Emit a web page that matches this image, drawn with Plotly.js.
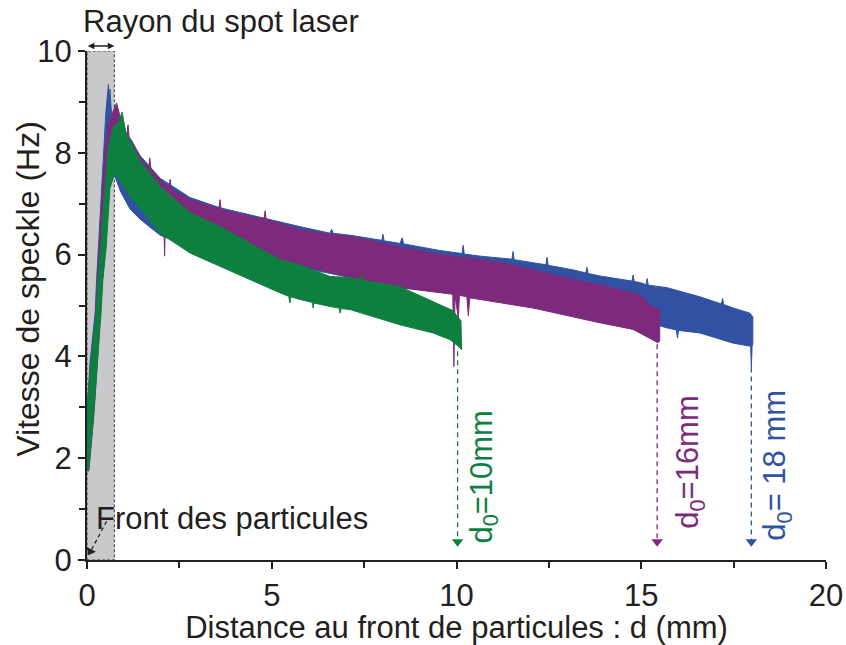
<!DOCTYPE html>
<html>
<head>
<meta charset="utf-8">
<script src="https://cdn.plot.ly/plotly-3.0.1.min.js"></script>
<style>html,body{margin:0;padding:0;background:#fff;}#chart{width:846px;height:645px;}</style>
</head>
<body>
<div id="chart"></div>
<script>
// ---- Data (upper / lower envelopes of each noisy band, with visible spikes) ----
const blueTopX = [0.01,0.0,0.08,0.22,0.26,0.31,0.35,0.40,0.46,0.51,0.56,0.58,0.60,0.62,0.66,0.70,0.85,1.0,1.2,1.43,1.98,2.79,3.6,4.41,5.22,5.76,6.58,6.62,6.66,7.12,7.98,8.01,8.04,8.47,8.53,8.57,9.55,10.15,10.18,10.21,10.64,11.37,11.5,11.53,11.56,12.07,12.42,12.45,12.48,13.15,13.5,13.53,13.56,13.88,14.75,14.78,14.81,14.97,15.13,15.16,15.19,15.7,16.59,17.17,17.2,17.23,17.49,17.94,18.02];
const blueTopY = [1.8,2.9,3.87,4.85,5.51,6.16,6.82,7.47,8.13,8.78,9.2,9.34,9.0,9.25,8.8,8.6,8.55,8.45,8.25,7.95,7.5,7.12,6.92,6.78,6.65,6.55,6.42,6.5,6.42,6.38,6.28,6.4,6.27,6.22,6.33,6.21,6.08,6.02,6.18,6.01,5.97,5.93,5.91,6.06,5.9,5.84,5.8,5.95,5.79,5.7,5.64,5.75,5.63,5.58,5.48,5.6,5.47,5.45,5.41,5.53,5.4,5.35,5.17,5.03,5.14,5.02,4.95,4.85,4.78];
const blueBotX = [0.04,0.17,0.26,0.35,0.40,0.49,0.53,0.58,0.70,0.9,1.16,1.43,1.98,2.79,3.6,4.41,5.76,7.12,8.47,10.28,12.07,13.88,14.78,15.7,15.95,15.98,16.01,16.59,17.49,17.96,17.98,18.0,18.02];
const blueBotY = [1.8,2.88,3.87,4.85,5.51,6.16,6.82,7.47,7.65,7.25,6.9,6.7,6.38,6.15,6.0,5.9,5.75,5.55,5.4,5.3,5.15,4.92,4.75,4.56,4.52,4.36,4.51,4.46,4.26,4.2,3.78,4.2,4.25];

const purpleTopX = [0.01,0.0,0.1,0.24,0.28,0.33,0.37,0.43,0.5,0.6,0.7,0.8,0.9,1.0,1.08,1.11,1.14,1.43,1.67,1.7,1.73,1.98,2.22,2.25,2.28,2.79,3.57,3.6,3.63,4.41,4.79,4.82,4.85,5.22,5.76,6.58,7.12,8.47,9.55,10.28,11.37,12.07,13.15,13.88,14.97,15.24,15.5];
const purpleTopY = [1.75,2.9,3.87,4.85,5.51,6.16,6.82,7.47,8.13,8.6,8.8,8.98,8.7,8.5,8.35,8.55,8.3,7.92,7.7,7.9,7.68,7.47,7.3,7.48,7.28,7.08,6.9,7.08,6.88,6.75,6.7,6.86,6.69,6.62,6.49,6.4,6.36,6.15,6.0,5.94,5.82,5.7,5.51,5.41,5.21,5.0,4.92];
const purpleBotX = [0.05,0.19,0.28,0.37,0.42,0.51,0.55,0.62,0.8,1.0,1.43,1.98,2.08,2.1,2.12,2.79,3.6,4.41,5.76,7.12,8.47,9.9,9.93,9.96,10.05,10.08,10.28,10.32,10.36,12.07,13.88,14.78,15.45,15.5];
const purpleBotY = [1.75,2.88,3.87,4.85,5.51,6.16,6.82,7.6,7.7,7.5,7.1,6.7,6.65,5.97,6.63,6.4,6.2,6.05,5.8,5.55,5.35,5.22,3.8,5.2,4.75,5.2,5.17,4.8,5.15,4.95,4.66,4.53,4.27,4.3];

const greenTopX = [0.02,0.0,0.1,0.25,0.3,0.36,0.42,0.5,0.58,0.7,0.85,0.95,1.05,1.43,1.98,2.79,3.6,4.41,5.22,5.76,6.58,7.12,7.41,7.44,7.47,8.47,9.37,9.9,10.12];
const greenTopY = [1.75,2.9,3.87,4.85,5.51,6.16,6.82,7.47,8.13,8.5,8.6,8.8,8.4,7.85,7.34,6.82,6.55,6.23,5.9,5.8,5.57,5.55,5.5,5.62,5.49,5.37,5.08,4.9,4.7];
const greenBotX = [0.05,0.18,0.28,0.38,0.43,0.52,0.57,0.62,0.75,0.9,1.2,1.61,1.98,2.79,3.6,4.41,5.22,5.46,5.49,5.52,5.76,6.1,6.12,6.14,6.58,6.82,6.85,6.88,7.12,8.47,9.37,9.82,10.05,10.14];
const greenBotY = [1.8,2.88,3.87,4.85,5.51,6.16,6.82,7.3,7.6,7.45,7.12,6.75,6.42,6.03,5.77,5.51,5.25,5.18,5.05,5.17,5.12,5.06,4.95,5.05,4.98,4.95,4.85,4.94,4.92,4.62,4.46,4.33,4.2,4.13];

const seriesNames = ["d0 = 18 mm", "d0 = 16 mm", "d0 = 10 mm"];
const seriesColors = ["#3152a3", "#7d2a7c", "#0d7f3f"];
const endDistances = [17.98, 15.43, 10.03];   // where each d0 run ends (mm)
const endStartY = [3.78, 4.24, 4.1];
const labelTexts = ["d<sub>0</sub>= 18 mm", "d<sub>0</sub>=16mm", "d<sub>0</sub>=10mm"];

const xTicks = [0, 5, 10, 15, 20];
const yTicks = [0, 2, 4, 6, 8, 10];
const spotRadius = 0.74;

const FONT = "Liberation Sans, Arial, Helvetica, sans-serif";
const TXT = "#231f20";

function band(tx, ty, bx, by) {
  return {
    x: tx.concat(bx.slice().reverse()).concat([tx[0]]),
    y: ty.concat(by.slice().reverse()).concat([ty[0]])
  };
}
const bands = [
  band(blueTopX, blueTopY, blueBotX, blueBotY),
  band(purpleTopX, purpleTopY, purpleBotX, purpleBotY),
  band(greenTopX, greenTopY, greenBotX, greenBotY)
];

const traces = bands.map((b, i) => ({
  type: "scatter", mode: "lines", x: b.x, y: b.y,
  fill: "toself", fillcolor: seriesColors[i],
  line: {color: seriesColors[i], width: 1},
  name: seriesNames[i], hoverinfo: "skip", showlegend: false
}));

// dashed arrows marking the end of each run
for (let i = 0; i < 3; i++) {
  traces.push({type: "scatter", mode: "lines", x: [endDistances[i], endDistances[i]], y: [endStartY[i], 0.4],
    line: {color: seriesColors[i], width: 1.3, dash: "5px,4px"}, hoverinfo: "skip", showlegend: false});
  traces.push({type: "scatter", mode: "markers", x: [endDistances[i]], y: [0.36],
    marker: {symbol: "triangle-down", size: 10, color: seriesColors[i], line: {width: 0}},
    hoverinfo: "skip", showlegend: false, cliponaxis: false});
}
// particle front dashed arrow
traces.push({type: "scatter", mode: "lines", x: [0.53, 0.12], y: [0.76, 0.2],
  line: {color: TXT, width: 1.2, dash: "4px,3px"}, hoverinfo: "skip", showlegend: false});
traces.push({type: "scatter", mode: "markers", x: [0.09], y: [0.17],
  marker: {symbol: "triangle-down", size: 9, angle: 28, color: TXT, line: {width: 0}},
  hoverinfo: "skip", showlegend: false, cliponaxis: false});

const shapes = [
  {type: "rect", xref: "x", yref: "y", x0: 0, x1: spotRadius, y0: 0, y1: 10,
   fillcolor: "#c8c9cb", line: {color: "#3a3a3a", width: 1, dash: "3px,2px"}, layer: "below"}
];
const annotations = [
  {x: 3.63, y: 1.057, xref: "x", yref: "paper", text: "Rayon du spot laser", showarrow: false,
   font: {family: FONT, size: 31, color: TXT}, xanchor: "center", yanchor: "middle"},
  {x: 3.92, y: 0.81, xref: "x", yref: "y", text: "Front des particules", showarrow: false,
   font: {family: FONT, size: 31, color: TXT}, xanchor: "center", yanchor: "middle"},
  // spot radius double-headed arrow above the grey band
  {x: spotRadius, y: 1.0098, xref: "x", yref: "paper", ax: -28, ay: 0, axref: "pixel", ayref: "pixel",
   showarrow: true, arrowhead: 2, startarrowhead: 2, arrowside: "end+start", arrowsize: 1, startarrowsize: 1,
   arrowwidth: 1.3, arrowcolor: TXT, text: "", standoff: 0, startstandoff: 0},
  {x: -0.0798, y: 0.533, xref: "paper", yref: "paper", text: "Vitesse de speckle (Hz)", showarrow: false,
   textangle: -90, font: {family: FONT, size: 32, color: TXT}, xanchor: "center", yanchor: "middle"}
];
const labelX = [18.67, 16.32, 10.72];
const labelY = [1.87, 1.93, 1.64];
for (let i = 0; i < 3; i++) {
  annotations.push({x: labelX[i], y: labelY[i], xref: "x", yref: "y", text: labelTexts[i],
    showarrow: false, textangle: -90, font: {family: FONT, size: 31, color: seriesColors[i]},
    xanchor: "center", yanchor: "middle"});
}

const layout = {
  width: 846, height: 645,
  margin: {l: 87, r: 20, t: 51, b: 85, pad: 0},
  paper_bgcolor: "#ffffff", plot_bgcolor: "#ffffff",
  showlegend: false,
  font: {family: FONT, size: 31, color: TXT},
  xaxis: {
    range: [0, 20], tickvals: xTicks, ticktext: xTicks.map(String),
    showgrid: false, zeroline: false, showline: true, linecolor: TXT, linewidth: 2,
    ticks: "outside", ticklen: 7, tickwidth: 2, tickcolor: TXT,
    minor: {dtick: 2.5, ticks: "outside", ticklen: 6, tickwidth: 2, tickcolor: TXT, showgrid: false},
    tickfont: {family: FONT, size: 31, color: TXT},
    title: {text: "Distance au front de particules : d (mm)", font: {family: FONT, size: 31, color: TXT}, standoff: 3}
  },
  yaxis: {
    range: [0, 10], tickvals: yTicks, ticktext: yTicks.map(String),
    showgrid: false, zeroline: false, showline: true, linecolor: TXT, linewidth: 2,
    ticks: "outside", ticklen: 7, tickwidth: 2, tickcolor: TXT,
    minor: {dtick: 1, ticks: "outside", ticklen: 6, tickwidth: 2, tickcolor: TXT, showgrid: false},
    tickfont: {family: FONT, size: 31, color: TXT}
  },
  shapes: shapes,
  annotations: annotations
};

Plotly.newPlot("chart", traces, layout, {displayModeBar: false, staticPlot: true});
</script>
</body>
</html>
